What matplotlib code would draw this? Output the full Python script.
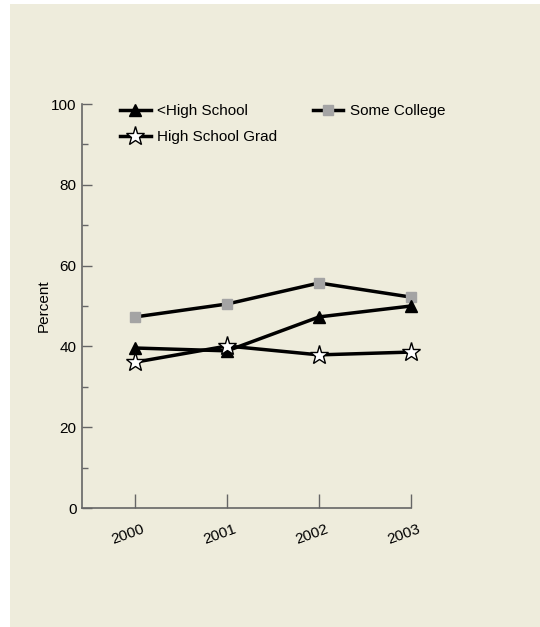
import matplotlib
matplotlib.use("Agg")
import matplotlib.pyplot as plt
import matplotlib.transforms as mtransforms
from matplotlib.patches import Rectangle

years = [2000, 2001, 2002, 2003]
year_labels = ["2000", "2001", "2002", "2003"]
less_hs = [39.6, 38.9, 47.3, 50.0]
hs_grad = [36.1, 40.1, 37.9, 38.6]
some_college = [47.3, 50.5, 55.7, 52.2]

plt.rcParams['font.family'] = ['Liberation Sans', 'DejaVu Sans']
FS = 11

fig = plt.figure(figsize=(5.4, 6.27), dpi=100)
fig.patch.set_facecolor('white')
bg = '#eeecdc'
fig.add_artist(Rectangle((10/540, 0), 530/540, 1 - 4/627, transform=fig.transFigure,
                         facecolor=bg, edgecolor='none', zorder=-10))

ax = fig.add_axes([82/540, 1 - 508/627, 329/540, 404/627])
ax.set_zorder(1)
ax.patch.set_visible(False)

ax.plot(years, some_college, color='black', lw=2.5, marker='s', ms=7,
        markerfacecolor='#a4a4a4', markeredgecolor='#a4a4a4', label='Some College',
        zorder=3, clip_on=False)
ax.plot(years, less_hs, color='black', lw=2.5, marker='^', ms=9,
        markerfacecolor='black', markeredgecolor='black', label='<High School',
        zorder=4, clip_on=False)
ax.plot(years, hs_grad, color='black', lw=2.5, marker='*', ms=14,
        markerfacecolor='white', markeredgecolor='black', markeredgewidth=1.0,
        label='High School Grad', zorder=5, clip_on=False)

ax.set_xlim(1999.42, 2003.0)
ax.set_ylim(0, 100)
ax.set_yticks([0, 20, 40, 60, 80, 100])
ax.set_yticks([10, 30, 50, 70, 90], minor=True)
ax.set_xticks(years)
ax.tick_params(axis='y', direction='in', length=7, width=1, color='#666666', labelsize=FS, pad=4)
ax.tick_params(axis='y', which='minor', direction='in', length=4, width=1, color='#666666')
ax.tick_params(axis='x', direction='in', length=10, width=1, color='#666666', labelsize=FS, pad=10)
ax.set_xticklabels(year_labels, rotation=20, fontsize=FS)
offset = mtransforms.ScaledTranslation(6/100, 0, fig.dpi_scale_trans)
for lbl in ax.get_xticklabels():
    lbl.set_rotation_mode('anchor')
    lbl.set_ha('right')
    lbl.set_va('top')
    lbl.set_transform(lbl.get_transform() + offset)
for s in ['top', 'right']:
    ax.spines[s].set_visible(False)
for s in ['left', 'bottom']:
    ax.spines[s].set_color('#666666')
    ax.spines[s].set_linewidth(1.2)

ax.set_ylabel('Percent', fontsize=FS, labelpad=0)

handles, labels = ax.get_legend_handles_labels()
order = [1, 2, 0]
leg = ax.legend([handles[i] for i in order], [labels[i] for i in order], ncol=2,
                loc='upper left', bbox_to_anchor=(0.1155, 1.0), frameon=False,
                borderaxespad=0, borderpad=0,
                fontsize=FS, handlelength=2.0, handletextpad=0.45,
                columnspacing=2.3, labelspacing=0.8)

fig.savefig('out.png', dpi=100, facecolor='white')
